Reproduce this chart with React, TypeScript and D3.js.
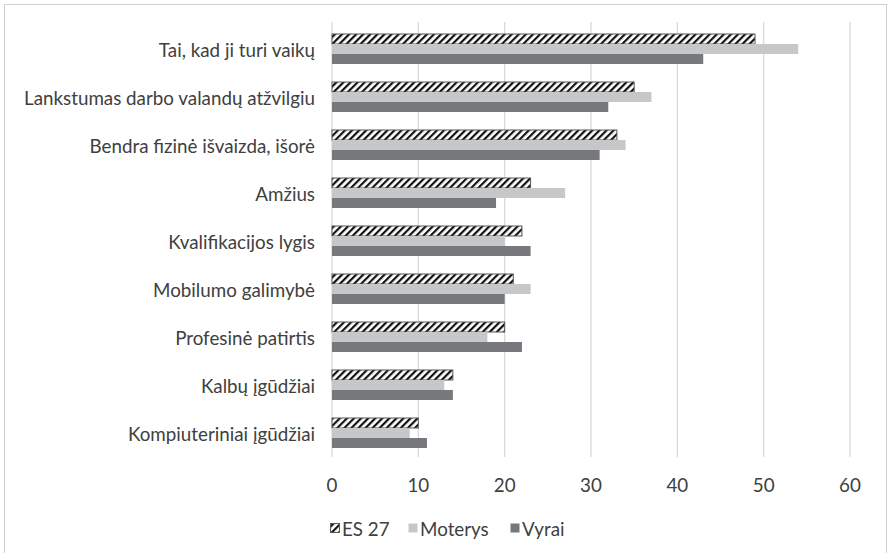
import React from "react";
import * as d3 from "d3";

const categories = [
  "Tai, kad ji turi vaikų",
  "Lankstumas darbo valandų atžvilgiu",
  "Bendra fizinė išvaizda, išorė",
  "Amžius",
  "Kvalifikacijos lygis",
  "Mobilumo galimybė",
  "Profesinė patirtis",
  "Kalbų įgūdžiai",
  "Kompiuteriniai įgūdžiai",
];
const seriesNames = ["ES 27", "Moterys", "Vyrai"];
const es27 = [49, 35, 33, 23, 22, 21, 20, 14, 10];
const moterys = [54, 37, 34, 27, 20, 23, 18, 13, 9];
const vyrai = [43, 32, 31, 19, 23, 20, 22, 14, 11];
const xTicks = [0, 10, 20, 30, 40, 50, 60];

const W = 888;
const H = 553;
const FONT = "Lato, 'Open Sans', sans-serif";
const TEXT = "#404040";
const FS = 18.8;

export default function App() {
  const x = d3.scaleLinear().domain([0, 60]).range([332, 850]);
  const y0 = d3.scaleBand<string>().domain(categories).range([25, 457]);
  const y1 = d3
    .scaleBand<string>()
    .domain(seriesNames)
    .range([0, y0.bandwidth()])
    .paddingInner(0)
    .paddingOuter(0.9);
  const values = [es27, moterys, vyrai];
  const fills = ["url(#hatch)", "#c6c7c9", "#77787b"];
  const legendX = [330, 408, 510];

  return (
    <div style={{ position: "absolute", left: 0, top: 0 }}>
      <svg width={W} height={H} style={{ display: "block", background: "#fff" }}>
        <defs>
          <pattern
            id="hatch"
            patternUnits="userSpaceOnUse"
            width={5}
            height={5}
            patternTransform="rotate(45)"
          >
            <rect width={5} height={5} fill="#fff" />
            <rect width={2.2} height={5} fill="#111" />
          </pattern>
        </defs>
        <rect x={4.5} y={4.5} width={882} height={560} fill="#fff" stroke="#d0d0d0" />
        {xTicks.map((t) => (
          <line key={t} x1={x(t)} x2={x(t)} y1={22} y2={457} stroke="#d9d9d9" strokeWidth={1.3} />
        ))}
        {categories.map((c, i) => (
          <g key={c}>
            {seriesNames.map((s, j) => (
              <rect
                key={s}
                x={x(0)}
                y={(y0(c) as number) + (y1(s) as number)}
                width={x(values[j][i]) - x(0)}
                height={y1.bandwidth()}
                fill={fills[j]}
                stroke={j === 0 ? "#595959" : "none"}
                strokeWidth={1}
              />
            ))}
            <text
              x={315}
              y={(y0(c) as number) + y0.bandwidth() / 2}
              textAnchor="end"
              dominantBaseline="central"
              fontFamily={FONT}
              fontSize={FS}
              fill={TEXT}
            >
              {c}
            </text>
          </g>
        ))}
        {xTicks.map((t) => (
          <text
            key={t}
            x={x(t)}
            y={484}
            textAnchor="middle"
            dominantBaseline="central"
            fontFamily={FONT}
            fontSize={FS}
            fill={TEXT}
          >
            {t}
          </text>
        ))}
        {seriesNames.map((s, j) => (
          <g key={s}>
            <rect
              x={legendX[j] + 0.5}
              y={523.5}
              width={9}
              height={9}
              fill={fills[j]}
              stroke={j === 0 ? "#595959" : "none"}
            />
            <text
              x={legendX[j] + 12}
              y={528.5}
              dominantBaseline="central"
              fontFamily={FONT}
              fontSize={FS}
              fill={TEXT}
            >
              {s}
            </text>
          </g>
        ))}
      </svg>
    </div>
  );
}
